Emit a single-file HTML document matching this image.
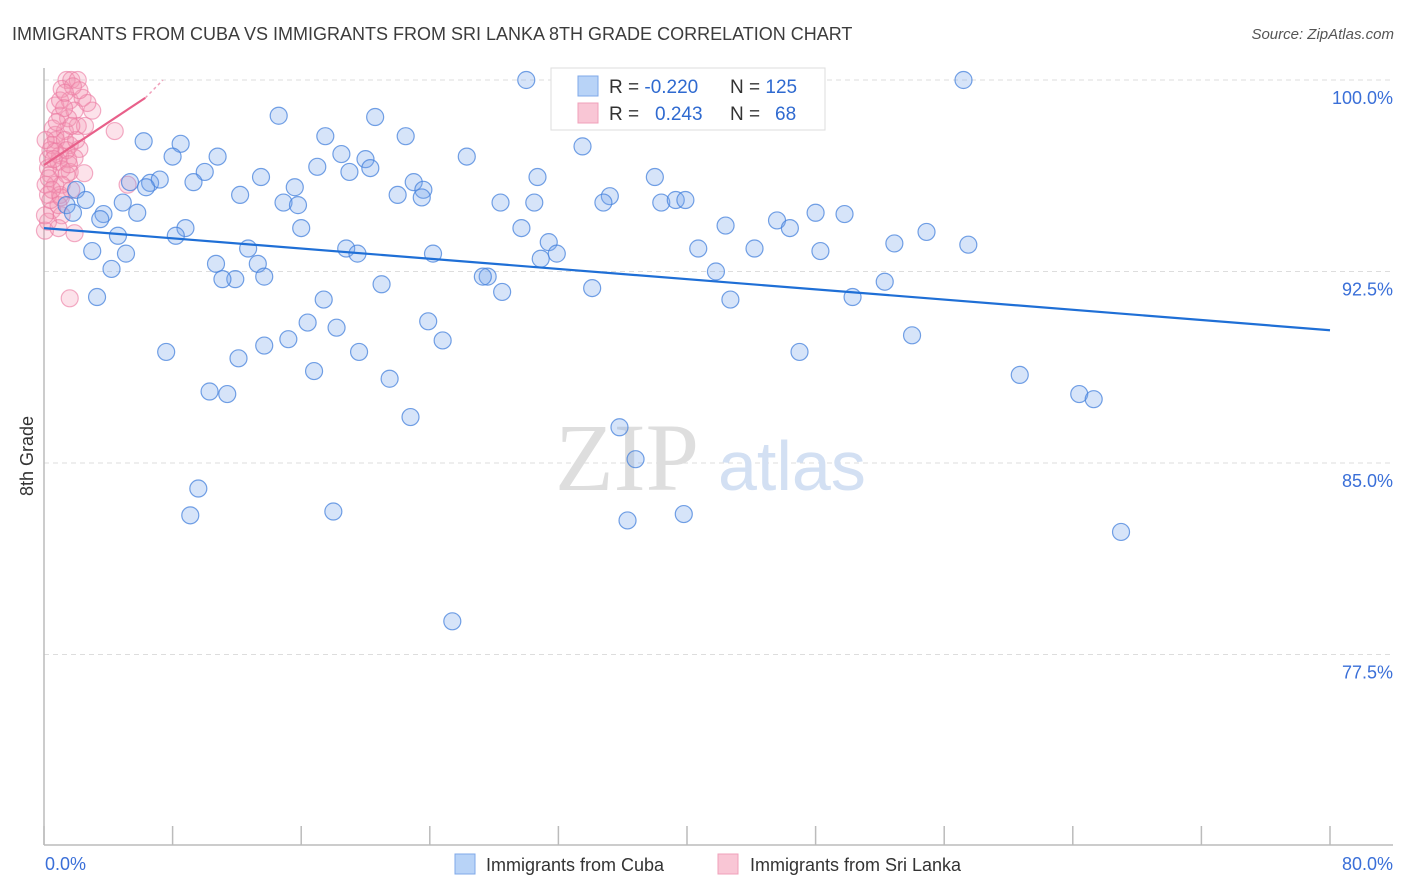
<!DOCTYPE html>
<html><head><meta charset="utf-8">
<style>
body{margin:0;background:#fff;font-family:"Liberation Sans",sans-serif;}
svg{display:block}
</style></head>
<body>
<svg id="chart" width="1406" height="892" viewBox="0 0 1406 892" xmlns="http://www.w3.org/2000/svg">
<text x="12" y="40" font-size="18" fill="#3c3c3c">IMMIGRANTS FROM CUBA VS IMMIGRANTS FROM SRI LANKA 8TH GRADE CORRELATION CHART</text>
<text x="1394" y="39" font-size="15" font-style="italic" fill="#555" text-anchor="end">Source: ZipAtlas.com</text>
<g id="grid"></g>
<g>
<text x="555" y="490" font-family="Liberation Serif" font-size="96" fill="#dedede">ZIP</text>
<text x="718" y="490" font-size="70" fill="#d3e0f3">atlas</text>
</g>
<line x1="44" y1="68" x2="44" y2="845" stroke="#bbb" stroke-width="1.5"/>
<line x1="44" y1="845" x2="1393" y2="845" stroke="#bbb" stroke-width="1.5"/>
<g id="xticks"></g>
<g id="pts"></g>
<g id="trends"></g>
<g id="ylabels"></g>
<text transform="translate(33,456) rotate(-90)" font-size="18" fill="#333" text-anchor="middle">8th Grade</text>
<text x="45" y="870" font-size="18" fill="#3a6fd8">0.0%</text>
<text x="1393" y="870" font-size="18" fill="#3a6fd8" text-anchor="end">80.0%</text>
<g>
<rect x="551" y="68" width="274" height="62" fill="#fff" stroke="#ddd"/>
<rect x="578" y="76" width="20" height="20" fill="#b8d3f7" stroke="#7fa8e8"/>
<rect x="578" y="103" width="20" height="20" fill="#f9c6d5" stroke="#f0a0ba"/>
<text x="609" y="93" font-size="19" fill="#333">R = <tspan fill="#2f6ad0">-0.220</tspan></text>
<text x="730" y="93" font-size="19" fill="#333">N = <tspan fill="#2f6ad0">125</tspan></text>
<text x="609" y="120" font-size="19" fill="#333">R = </text>
<text x="655" y="120" font-size="19" fill="#2f6ad0">0.243</text>
<text x="730" y="120" font-size="19" fill="#333">N = </text>
<text x="775" y="120" font-size="19" fill="#2f6ad0">68</text>
</g>
<g>
<rect x="455" y="854" width="20" height="20" fill="#b8d3f7" stroke="#7fa8e8"/>
<text x="486" y="871" font-size="18" fill="#333">Immigrants from Cuba</text>
<rect x="718" y="854" width="20" height="20" fill="#f9c6d5" stroke="#f0a0ba"/>
<text x="750" y="871" font-size="18" fill="#333">Immigrants from Sri Lanka</text>
</g>
</svg>
<script>
const yTicks=[100,92.5,85,77.5];
const yTickLabels=["100.0%","92.5%","85.0%","77.5%"];
const xTickValues=[0,8,16,24,32,40,48,56,64,72,80];
const cubaX=[30.0,57.2,14.6,20.6,6.2,8.5,17.5,22.5,33.5,8.0,10.8,26.3,18.5,20.0,17.0,20.3,10.0,13.5,19.0,30.7,38.0,9.3,5.35,6.6,7.2,6.35,2.0,15.6,23.0,12.2,22.0,23.6,23.5,35.2,14.9,15.8,28.4,30.5,34.8,38.4,39.3,39.9,4.9,2.6,1.4,1.8,5.8,3.7,3.5,48.0,49.8,45.6,46.4,42.4,16.0,29.7,8.8,8.2,4.6,54.9,31.4,18.8,40.7,52.9,57.5,44.2,48.3,12.7,19.5,3.0,24.2,5.1,31.9,30.9,10.7,13.3,4.2,41.8,27.6,27.3,11.9,13.7,11.1,21.0,52.3,28.5,34.1,3.3,17.4,50.3,42.7,16.4,18.2,23.9,15.2,13.7,24.8,54.0,7.6,19.6,12.1,47.0,16.8,21.5,60.7,10.3,11.4,64.4,65.3,22.8,35.8,36.8,9.6,9.1,18.0,36.3,39.8,67.0,25.4];
const cubaY=[100.0,100.0,98.6,98.55,97.6,97.5,97.8,97.8,97.4,97.0,97.0,97.0,97.1,96.9,96.6,96.55,96.4,96.2,96.4,96.2,96.2,96.0,96.0,95.97,96.1,95.8,95.7,95.8,96.0,95.5,95.5,95.7,95.4,95.45,95.2,95.1,95.2,95.2,95.2,95.2,95.3,95.3,95.2,95.3,95.1,94.8,94.8,94.75,94.55,94.8,94.75,94.5,94.2,94.3,94.2,94.2,94.2,93.9,93.9,94.05,93.65,93.4,93.4,93.6,93.55,93.4,93.3,93.4,93.2,93.3,93.2,93.2,93.2,93.0,92.8,92.8,92.6,92.5,92.3,92.3,92.2,92.3,92.2,92.0,92.1,91.7,91.85,91.5,91.4,91.5,91.4,90.5,90.3,90.55,89.85,89.6,89.8,90.0,89.35,89.35,89.1,89.35,88.6,88.3,88.45,87.8,87.7,87.7,87.5,86.8,86.4,85.15,84.0,82.95,83.1,82.75,83.0,82.3,78.8];
const lankaX=[1.4,1.7,2.1,1.1,0.7,1.6,2.4,3.0,1.0,1.9,1.3,2.1,0.7,0.5,1.6,1.0,0.25,0.9,1.5,4.4,2.55,0.4,1.1,1.6,2.5,5.2,0.7,0.25,1.0,0.5,1.1,0.25,1.9,0.06,1.6,0.75,2.2,0.4,1.4,0.9,0.1,0.55,1.5,1.0,2.7,1.3,1.9,0.25,0.7,1.1,1.7,0.4,0.06,0.9,1.25,2.2,1.8,0.8,1.4,0.3,1.05,0.5,2.0,1.3,1.55,0.6,0.1,1.7];
const lankaY=[100,100,100,99.65,99.0,99.2,99.3,98.8,98.6,98.8,98.0,98.2,97.85,97.45,97.45,97.05,96.9,96.8,96.9,98.0,98.2,96.3,96.5,96.4,96.35,95.9,95.9,95.5,95.5,94.9,94.7,94.45,94.0,94.1,91.45,97.65,97.3,97.25,96.3,95.1,95.9,98.1,98.5,99.2,99.1,97.65,96.95,96.55,97.2,95.9,95.7,95.3,94.7,94.2,98.9,99.6,99.75,98.35,97.25,96.15,95.4,95.7,97.65,99.5,96.7,96.9,97.65,98.2];
const cubaTrendX=[0,80];
const cubaTrendY=[94.2,90.2];
const lankaTrendX=[0,6.3];
const lankaTrendY=[96.67,99.3];
const lankaTrendDashX=[6.3,7.4];
const lankaTrendDashY=[99.3,100.0];

const NS="http://www.w3.org/2000/svg";
const X0=44,X1=1330,Y100=80,PXPER=191.5/7.5;
function sx(v){return X0+(v/80)*(X1-X0);}
function sy(v){return Y100+(100-v)*PXPER;}
function mk(tag,attrs,parent){const e=document.createElementNS(NS,tag);for(const k in attrs)e.setAttribute(k,attrs[k]);parent.appendChild(e);return e;}

const grid=document.getElementById('grid'),yl=document.getElementById('ylabels');
yTicks.forEach((t,i)=>{
  const l=mk('line',{x1:44,x2:1393,y1:sy(t),y2:sy(t),stroke:'#ddd','stroke-dasharray':'5,4'},grid);
  
  
  const tx=mk('text',{x:1393,y:sy(t)+24,'font-size':18,fill:'#3a6fd8','text-anchor':'end'},yl);
  tx.textContent=yTickLabels[i];
  
  
});
const xt=document.getElementById('xticks');
xTickValues.forEach(v=>{
  const l=mk('line',{x1:sx(v),x2:sx(v),y1:826,y2:845,stroke:'#bbb','stroke-width':1.5},xt);
  
  
});
const pts=document.getElementById('pts');
lankaX.forEach((v,i)=>{
  const c=mk('circle',{cx:sx(v),cy:sy(lankaY[i]),r:8.5,fill:'rgba(244,150,180,0.28)',stroke:'rgba(235,120,160,0.6)','stroke-width':1.2},pts);
  
  
});
cubaX.forEach((v,i)=>{
  const c=mk('circle',{cx:sx(v),cy:sy(cubaY[i]),r:8.5,fill:'rgba(120,165,235,0.3)',stroke:'rgba(70,130,220,0.75)','stroke-width':1.2},pts);
  
  
});
const tr=document.getElementById('trends');
const t1=mk('line',{x1:sx(cubaTrendX[0]),y1:sy(cubaTrendY[0]),x2:sx(cubaTrendX[1]),y2:sy(cubaTrendY[1]),stroke:'#1f6fd6','stroke-width':2.2},tr);


const t2=mk('line',{x1:sx(lankaTrendX[0]),y1:sy(lankaTrendY[0]),x2:sx(lankaTrendX[1]),y2:sy(lankaTrendY[1]),stroke:'#e8608a','stroke-width':2.2},tr);


const t3=mk('line',{x1:sx(lankaTrendDashX[0]),y1:sy(lankaTrendDashY[0]),x2:sx(lankaTrendDashX[1]),y2:sy(lankaTrendDashY[1]),stroke:'#f0a0ba','stroke-width':1.5,'stroke-dasharray':'3,3'},tr);


</script>
</body></html>
